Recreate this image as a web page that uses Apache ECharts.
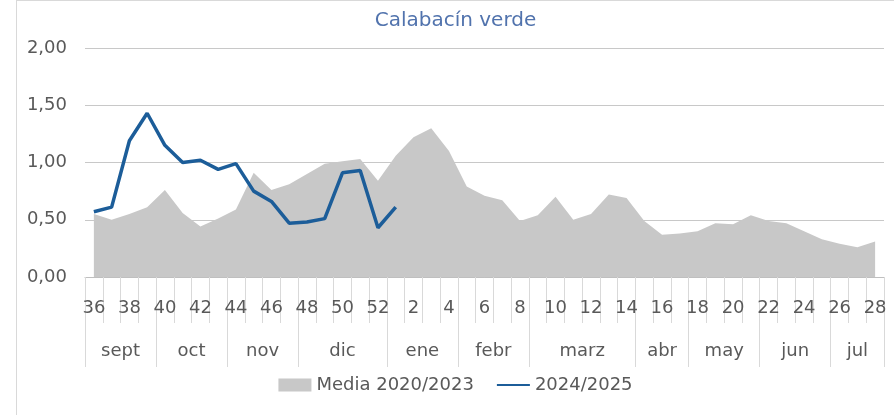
<!DOCTYPE html>
<html>
<head>
<meta charset="utf-8">
<script src="https://cdn.jsdelivr.net/npm/echarts@6/dist/echarts.min.js"></script>
<style>
  html, body { margin: 0; padding: 0; background: #fff; overflow: hidden; }
  #myChart { width: 877px; height: 414px; border-top: 1px solid #d9d9d9; border-left: 1px solid #d9d9d9; margin-left: 16px; }
</style>
</head>
<body>
<div id="myChart"></div>
<script>
// semanas de campaña
const weeks = ['36','37','38','39','40','41','42','43','44','45','46','47','48','49','50','51','52',
  '1','2','3','4','5','6','7','8','9','10','11','12','13','14','15','16','17','18','19','20',
  '21','22','23','24','25','26','27','28'];
// media 2020/2023
const media = [0.55,0.50,0.55,0.61,0.76,0.56,0.44,0.51,0.59,0.91,0.76,0.81,0.90,0.99,1.01,1.03,0.84,
  1.06,1.22,1.30,1.10,0.79,0.71,0.67,0.49,0.54,0.70,0.50,0.55,0.72,0.69,0.49,0.37,0.38,0.40,0.47,
  0.46,0.54,0.49,0.47,0.40,0.33,0.29,0.26,0.31];
// campaña 2024/2025
const actual = [0.57,0.61,1.19,1.43,1.15,1.00,1.02,0.94,0.99,0.75,0.66,0.47,0.48,0.51,0.91,0.93,0.43,0.61];
// meses y nº de semanas de cada uno
const monthNames = ['sept','oct','nov','dic','ene','febr','marz','abr','may','jun','jul'];
const monthWeeks = [4,4,4,5,4,4,6,3,4,4,3];
const yTicks = [0, 0.5, 1, 1.5, 2];

const gray = '#595959';
const font = 'DejaVu Sans';

// limites y centros de cada mes (en semanas)
let bounds = [0], centers = [];
monthWeeks.forEach(n => {
    let start = bounds[bounds.length - 1];
    centers.push(start + n / 2);
    bounds.push(start + n);
});

let myChart = echarts.init(document.getElementById('myChart'));
let option = {
    animation: false,
    title: {
        text: 'Calabacín verde',
        left: 'center',
        top: 5,
        textStyle: {fontWeight: 'normal', fontSize: 20, color: '#5173ad', fontFamily: font}
    },
    grid: {left: 68, right: 10, top: 47, bottom: 138},
    legend: {
        bottom: 16,
        left: 'center',
        itemGap: 22,
        itemWidth: 33,
        itemHeight: 13,
        textStyle: {fontSize: 18, color: gray, fontFamily: font},
        data: [
            {name: 'Media 2020/2023', icon: 'rect'},
            {name: '2024/2025', itemStyle: {opacity: 0, borderWidth: 0}}
        ]
    },
    xAxis: [{
        type: 'category',
        data: weeks,
        boundaryGap: true,
        axisLine: {lineStyle: {color: '#bfbfbf'}},
        axisTick: {show: true, interval: 0, length: 46, lineStyle: {color: '#d9d9d9'}},
        axisLabel: {interval: 1, margin: 22, fontSize: 18, color: gray, fontFamily: font}
    }, {
        type: 'value',
        min: 0,
        max: weeks.length,
        position: 'bottom',
        offset: 46,
        axisLine: {show: false},
        splitLine: {show: false},
        axisTick: {show: true, customValues: bounds, length: 44, lineStyle: {color: '#d9d9d9'}},
        axisLabel: {
            customValues: centers,
            margin: 19,
            fontSize: 18,
            color: gray,
            fontFamily: font,
            formatter: v => monthNames[centers.indexOf(v)] || ''
        }
    }],
    yAxis: {
        type: 'value',
        min: yTicks[0],
        max: yTicks[yTicks.length - 1],
        interval: 0.5,
        axisLine: {show: false},
        axisTick: {show: false},
        axisLabel: {margin: 18, fontSize: 18, color: gray, fontFamily: font,
            formatter: v => v.toFixed(2).replace('.', ',')},
        splitLine: {lineStyle: {color: '#c8c8c8', width: 1.2}}
    },
    series: [{
        name: 'Media 2020/2023',
        type: 'line',
        data: media,
        symbol: 'none',
        lineStyle: {width: 0},
        itemStyle: {color: '#c8c8c8'},
        areaStyle: {color: '#c8c8c8', opacity: 1}
    }, {
        name: '2024/2025',
        type: 'line',
        data: actual,
        symbol: 'none',
        itemStyle: {color: '#1c5d99'},
        lineStyle: {width: 3.5, color: '#1c5d99'}
    }]
};
myChart.setOption(option);
</script>
</body>
</html>
